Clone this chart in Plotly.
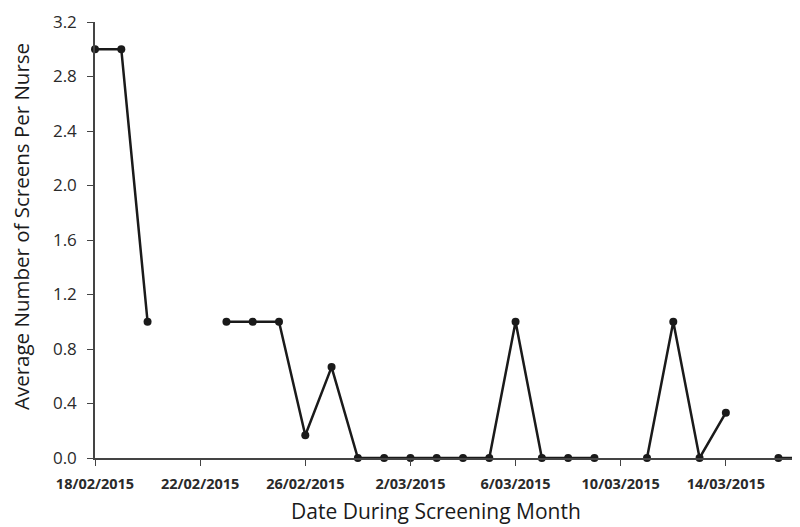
import plotly.graph_objects as go
import pandas as pd

dates = pd.date_range("2015-02-18", "2015-03-17", freq="D")
values = [3.0, 3.0, 1.0, None, None, 1.0, 1.0, 1.0, 0.167, 0.667,
          0.0, 0.0, 0.0, 0.0, 0.0, 0.0, 1.0, 0.0, 0.0, 0.0,
          None, 0.0, 1.0, 0.0, 0.333, None, 0.0, 0.0]
y_ticks = [0.0, 0.4, 0.8, 1.2, 1.6, 2.0, 2.4, 2.8, 3.2]
x_title = "Date During Screening Month"
y_title = "Average Number of Screens Per Nurse"

font_family = "Open Sans, Lato, sans-serif"
ink = "#1a1a1a"

# page body has an 8px margin: plot area sits at screen x 95..808, y 22..458
PL, PR, PT, PB = 95, 808, 22, 458


def px(X):
    return (X - PL) / (PR - PL)


def py(Y):
    return (PB - Y) / (PB - PT)


fig = go.Figure()
fig.add_trace(go.Scatter(
    x=dates, y=values, mode="lines+markers",
    line=dict(color=ink, width=2.5),
    marker=dict(color=ink, size=8),
    connectgaps=False, cliponaxis=False, showlegend=False,
))

fig.update_layout(
    width=800, height=527,
    margin=dict(l=87, r=0, t=14, b=77),
    plot_bgcolor="white", paper_bgcolor="white",
    font=dict(family=font_family, color=ink),
    xaxis=dict(
        range=[pd.Timestamp("2015-02-18"), pd.Timestamp("2015-03-17 03:00")],
        tick0="2015-02-18", dtick=4 * 86400000,
        tickformat="%-d/%m/%Y",
        tickfont=dict(size=14.5, family=font_family, weight="bold", color="#2a2a2a"),
        ticklabelstandoff=6,
        showline=True, linecolor="#444", linewidth=1.5,
        ticks="outside", ticklen=6, tickcolor="#444",
        showgrid=False, zeroline=False, automargin=False,
    ),
    yaxis=dict(
        range=[0, 3.2], tickvals=y_ticks, tickformat=".1f",
        tickfont=dict(size=17, color="#2a2a2a"),
        ticklabelstandoff=7,
        showline=True, linecolor="#444", linewidth=1.5,
        ticks="outside", ticklen=6, tickcolor="#444",
        showgrid=False, zeroline=False, automargin=False,
    ),
    annotations=[
        dict(text=x_title, xref="paper", yref="paper", x=px(436), y=py(511),
             xanchor="center", yanchor="middle", showarrow=False,
             font=dict(size=21, color=ink)),
        dict(text=y_title, xref="paper", yref="paper", x=px(21), y=py(227),
             xanchor="center", yanchor="middle", showarrow=False, textangle=-90,
             font=dict(size=20.5, color=ink)),
    ],
)

fig.write_html("out.html")
